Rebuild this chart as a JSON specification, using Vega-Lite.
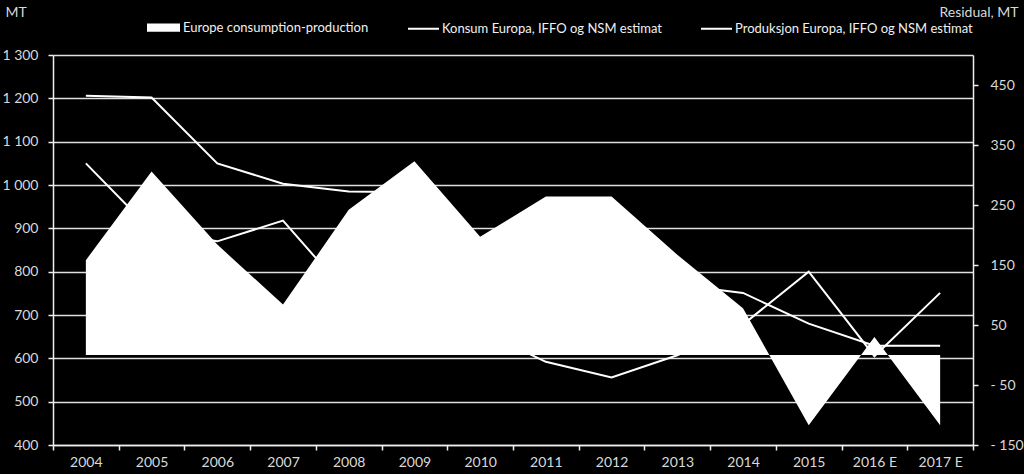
{
  "$schema": "https://vega.github.io/schema/vega-lite/v6.json",
  "width": 920,
  "height": 390,
  "autosize": {"type": "none"},
  "padding": {"left": 53, "top": 55, "right": 51, "bottom": 29},
  "background": "black",
  "config": {
    "view": {"stroke": null},
    "font": "Lato",
    "axis": {
      "labelFont": "Lato",
      "titleFont": "Lato",
      "labelColor": "#d9d9d9",
      "titleColor": "#d9d9d9",
      "labelFontSize": 14,
      "titleFontSize": 14,
      "titleFontWeight": "normal",
      "domainColor": "#f0f0f0",
      "domainWidth": 1.5,
      "tickColor": "#f0f0f0",
      "tickWidth": 1.5
    },
    "legend": {
      "labelFont": "Lato",
      "labelFontSize": 13,
      "labelColor": "#f0f0f0"
    }
  },
  "data": {
    "values": [
      {"year": "2004", "konsum": 1206, "produksjon": 1050, "residual": 158},
      {"year": "2005", "konsum": 1202, "produksjon": 895, "residual": 306},
      {"year": "2006", "konsum": 1050, "produksjon": 870, "residual": 184},
      {"year": "2007", "konsum": 1003, "produksjon": 918, "residual": 84},
      {"year": "2008", "konsum": 985, "produksjon": 745, "residual": 242},
      {"year": "2009", "konsum": 983, "produksjon": 660, "residual": 323},
      {"year": "2010", "konsum": 862, "produksjon": 665, "residual": 197},
      {"year": "2011", "konsum": 856, "produksjon": 592, "residual": 264},
      {"year": "2012", "konsum": 820, "produksjon": 556, "residual": 264},
      {"year": "2013", "konsum": 770, "produksjon": 607, "residual": 167},
      {"year": "2014", "konsum": 751, "produksjon": 678, "residual": 78},
      {"year": "2015", "konsum": 680, "produksjon": 800, "residual": -117},
      {"year": "2016 E", "konsum": 629, "produksjon": 605, "residual": 30},
      {"year": "2017 E", "konsum": 629, "produksjon": 751, "residual": -117}
    ]
  },
  "encoding": {
    "x": {
      "field": "year",
      "type": "ordinal",
      "sort": null,
      "bandPosition": 0.5,
      "scale": {"type": "band", "paddingInner": 0, "paddingOuter": 0},
      "axis": {
        "title": null,
        "labelAngle": 0,
        "tickBand": "extent",
        "tickSize": 5,
        "labelPadding": 5,
        "grid": false
      }
    }
  },
  "layer": [
    {
      "transform": [{"fold": ["konsum", "produksjon"], "as": ["series", "value"]}],
      "mark": {"type": "line", "strokeWidth": 2},
      "encoding": {
        "y": {
          "field": "value",
          "type": "quantitative",
          "scale": {"domain": [400, 1300], "nice": false, "zero": false},
          "axis": {
            "orient": "left",
            "values": [400, 500, 600, 700, 800, 900, 1000, 1100, 1200, 1300],
            "labelExpr": "replace(format(datum.value, ','), ',', ' ')",
            "grid": true,
            "gridColor": "#e0e0e0",
            "gridWidth": 1.5,
            "tickSize": 5,
            "labelPadding": 10,
            "title": "MT",
            "titleAngle": 0,
            "titleAlign": "left",
            "titleBaseline": "middle",
            "titleX": -48,
            "titleY": -43
          }
        },
        "stroke": {
          "field": "series",
          "type": "nominal",
          "scale": {"domain": ["konsum", "produksjon"], "range": ["white", "white"]},
          "legend": {
            "orient": "none",
            "legendX": 354,
            "legendY": -43,
            "direction": "horizontal",
            "title": null,
            "symbolType": "stroke",
            "symbolSize": 961,
            "symbolStrokeWidth": 2,
            "labelOffset": 2,
            "columnPadding": 34,
            "labelLimit": 400,
            "labelExpr": "datum.label == 'konsum' ? 'Konsum Europa, IFFO og NSM estimat' : 'Produksjon Europa, IFFO og NSM estimat'"
          }
        }
      }
    },
    {
      "mark": {"type": "area", "opacity": 1},
      "encoding": {
        "y": {
          "field": "residual",
          "type": "quantitative",
          "scale": {"domain": [-150, 500], "nice": false},
          "axis": {
            "orient": "right",
            "values": [-150, -50, 50, 150, 250, 350, 450],
            "labelExpr": "datum.value < 0 ? '- ' + abs(datum.value) : '' + datum.value",
            "grid": false,
            "tickSize": 5,
            "labelPadding": 12,
            "title": "Residual, MT",
            "titleAngle": 0,
            "titleAlign": "right",
            "titleBaseline": "middle",
            "titleX": 45,
            "titleY": -43
          }
        },
        "y2": {"datum": 0},
        "fill": {
          "datum": "Europe consumption-production",
          "type": "nominal",
          "scale": {"range": ["white"]},
          "legend": {
            "orient": "none",
            "legendX": 94,
            "legendY": -44,
            "title": null,
            "symbolType": "M-1,-0.25H1V0.25H-1Z",
            "symbolSize": 1089,
            "symbolOpacity": 1,
            "symbolStrokeWidth": 0,
            "labelOffset": 3,
            "labelLimit": 400
          }
        }
      }
    }
  ],
  "resolve": {"scale": {"y": "independent"}}
}
